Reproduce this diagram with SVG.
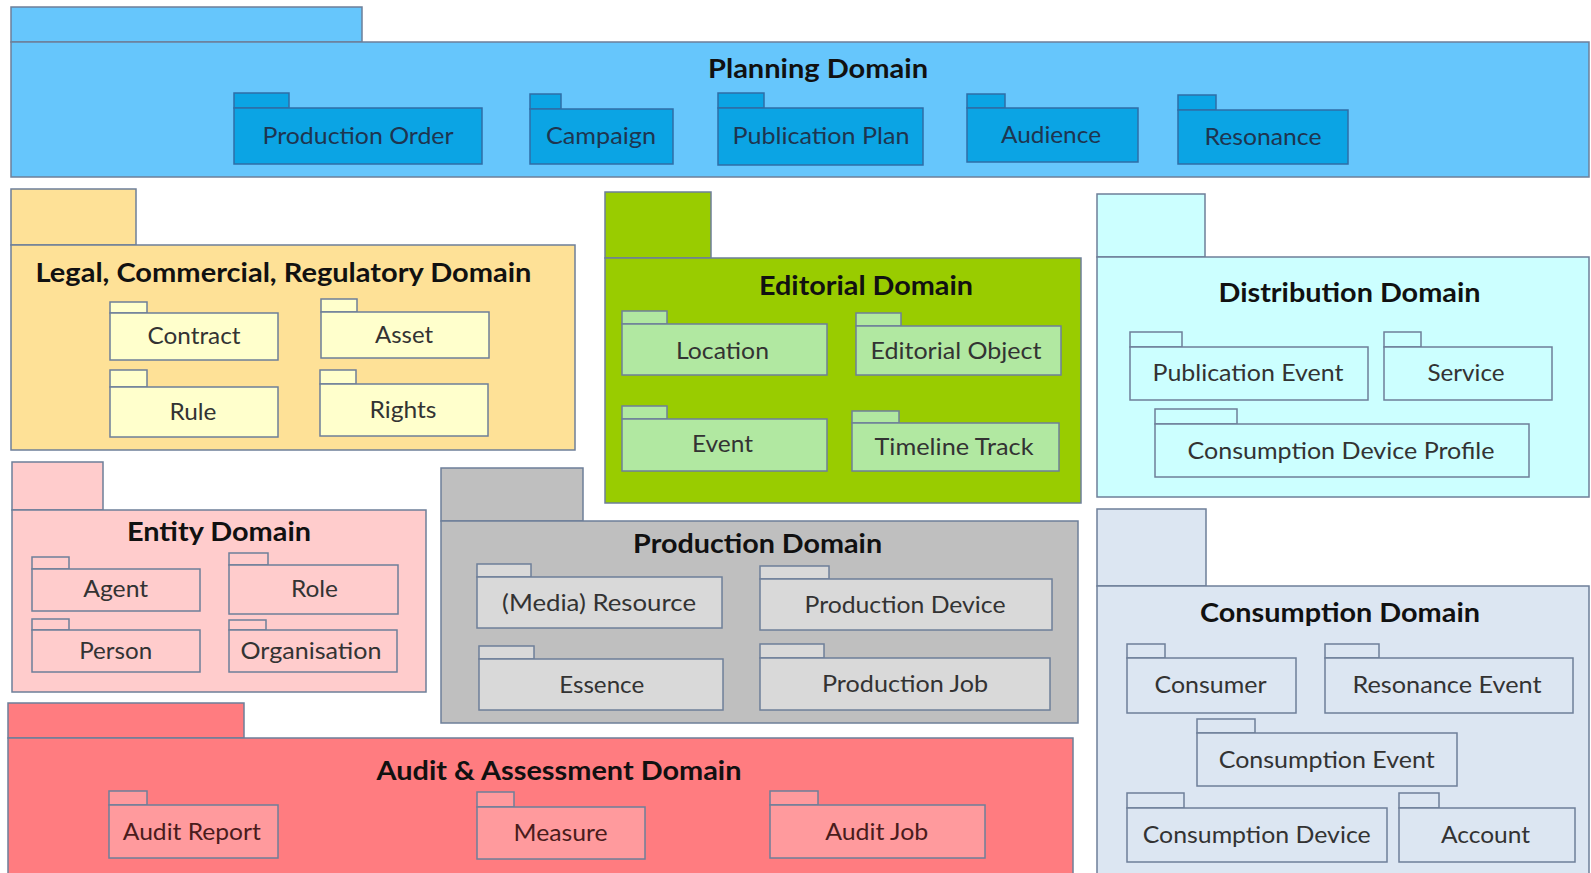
<svg xmlns="http://www.w3.org/2000/svg" width="1591" height="873" viewBox="0 0 1591 873">
<style>
  rect { stroke: #6E7F99; stroke-width: 1.5; }
  rect.bg { fill: #FFFFFF; stroke: none; }
  .t { font-family: Lato, "Liberation Sans", sans-serif; font-size: 26px; font-weight: bold; fill: #111; text-anchor: middle; }
  .s { font-family: Lato, "Liberation Sans", sans-serif; font-size: 24px; fill: #333; text-anchor: middle; }
  .plan { fill: #66C6FC; }
  .plan-s { fill: #0BA4E4; stroke: #2F6EA6; }
  .plan-t { fill: #1E3550; }
  .legal { fill: #FEE197; }
  .legal-s { fill: #FFFFCC; }
  .edit { fill: #99CC00; }
  .edit-s { fill: #B1E8A1; }
  .dist { fill: #CCFFFF; }
  .dist-s { fill: #CCFFFF; }
  .ent { fill: #FFCCCC; }
  .ent-s { fill: #FFCCCC; }
  .prod { fill: #BFBFBF; }
  .prod-s { fill: #D9D9D9; }
  .aud { fill: #FF7C80; }
  .aud-s { fill: #FF9A9D; }
  .aud-t { fill: #4A1C1C; }
  .cons { fill: #DCE6F2; }
  .cons-s { fill: #DCE6F2; }
</style>
<rect class="bg" x="0" y="0" width="1591" height="873"/>

<g id="planning-domain">
  <rect class="plan" x="11" y="7" width="351" height="35"/>
  <rect class="plan" x="11" y="42" width="1578" height="135"/>
  <text class="t" x="818" y="78" textLength="220" lengthAdjust="spacingAndGlyphs">Planning Domain</text>
  <g id="production-order">
    <rect class="plan-s" x="234" y="93" width="55" height="15"/>
    <rect class="plan-s" x="234" y="108" width="248" height="56"/>
    <text class="s plan-t" x="358" y="144" textLength="191" lengthAdjust="spacingAndGlyphs">Production Order</text>
  </g>
  <g id="campaign">
    <rect class="plan-s" x="530" y="94" width="31" height="15"/>
    <rect class="plan-s" x="530" y="109" width="143" height="55"/>
    <text class="s plan-t" x="601" y="144" textLength="110" lengthAdjust="spacingAndGlyphs">Campaign</text>
  </g>
  <g id="publication-plan">
    <rect class="plan-s" x="718" y="93" width="46" height="15"/>
    <rect class="plan-s" x="718" y="108" width="205" height="57"/>
    <text class="s plan-t" x="821" y="144" textLength="177" lengthAdjust="spacingAndGlyphs">Publication Plan</text>
  </g>
  <g id="audience">
    <rect class="plan-s" x="967" y="94" width="38" height="14"/>
    <rect class="plan-s" x="967" y="108" width="171" height="54"/>
    <text class="s plan-t" x="1051" y="143" textLength="100" lengthAdjust="spacingAndGlyphs">Audience</text>
  </g>
  <g id="resonance">
    <rect class="plan-s" x="1178" y="95" width="38" height="15"/>
    <rect class="plan-s" x="1178" y="110" width="170" height="54"/>
    <text class="s plan-t" x="1263" y="145" textLength="117" lengthAdjust="spacingAndGlyphs">Resonance</text>
  </g>
</g>

<g id="legal-domain">
  <rect class="legal" x="11" y="189" width="125" height="56"/>
  <rect class="legal" x="11" y="245" width="564" height="205"/>
  <text class="t" x="283.5" y="282" textLength="496" lengthAdjust="spacingAndGlyphs">Legal, Commercial, Regulatory Domain</text>
  <g id="contract">
    <rect class="legal-s" x="110" y="302" width="37" height="11"/>
    <rect class="legal-s" x="110" y="313" width="168" height="47"/>
    <text class="s" x="194" y="344" textLength="93" lengthAdjust="spacingAndGlyphs">Contract</text>
  </g>
  <g id="asset">
    <rect class="legal-s" x="321" y="299" width="36" height="13"/>
    <rect class="legal-s" x="321" y="312" width="168" height="46"/>
    <text class="s" x="404" y="343" textLength="58" lengthAdjust="spacingAndGlyphs">Asset</text>
  </g>
  <g id="rule">
    <rect class="legal-s" x="110" y="370" width="37" height="17"/>
    <rect class="legal-s" x="110" y="387" width="168" height="50"/>
    <text class="s" x="193" y="420" textLength="47" lengthAdjust="spacingAndGlyphs">Rule</text>
  </g>
  <g id="rights">
    <rect class="legal-s" x="320" y="370" width="36" height="14"/>
    <rect class="legal-s" x="320" y="384" width="168" height="52"/>
    <text class="s" x="403" y="418" textLength="67" lengthAdjust="spacingAndGlyphs">Rights</text>
  </g>
</g>

<g id="editorial-domain">
  <rect class="edit" x="605" y="192" width="106" height="66"/>
  <rect class="edit" x="605" y="258" width="476" height="245"/>
  <text class="t" x="866" y="295" textLength="214" lengthAdjust="spacingAndGlyphs">Editorial Domain</text>
  <g id="location">
    <rect class="edit-s" x="622" y="311" width="45" height="13"/>
    <rect class="edit-s" x="622" y="324" width="205" height="51"/>
    <text class="s" x="722.5" y="359" textLength="93" lengthAdjust="spacingAndGlyphs">Location</text>
  </g>
  <g id="editorial-object">
    <rect class="edit-s" x="856" y="313" width="45" height="13"/>
    <rect class="edit-s" x="856" y="326" width="205" height="49"/>
    <text class="s" x="956" y="359" textLength="171" lengthAdjust="spacingAndGlyphs">Editorial Object</text>
  </g>
  <g id="event">
    <rect class="edit-s" x="622" y="406" width="45" height="13"/>
    <rect class="edit-s" x="622" y="419" width="205" height="52"/>
    <text class="s" x="722.5" y="452" textLength="61" lengthAdjust="spacingAndGlyphs">Event</text>
  </g>
  <g id="timeline-track">
    <rect class="edit-s" x="852" y="411" width="47" height="12"/>
    <rect class="edit-s" x="852" y="423" width="207" height="48"/>
    <text class="s" x="954" y="455" textLength="159" lengthAdjust="spacingAndGlyphs">Timeline Track</text>
  </g>
</g>

<g id="distribution-domain">
  <rect class="dist" x="1097" y="194" width="108" height="63"/>
  <rect class="dist" x="1097" y="257" width="492" height="240"/>
  <text class="t" x="1349.5" y="302" textLength="262" lengthAdjust="spacingAndGlyphs">Distribution Domain</text>
  <g id="publication-event">
    <rect class="dist-s" x="1130" y="332" width="52" height="15"/>
    <rect class="dist-s" x="1130" y="347" width="238" height="53"/>
    <text class="s" x="1248" y="381" textLength="191" lengthAdjust="spacingAndGlyphs">Publication Event</text>
  </g>
  <g id="service">
    <rect class="dist-s" x="1384" y="332" width="37" height="15"/>
    <rect class="dist-s" x="1384" y="347" width="168" height="53"/>
    <text class="s" x="1466" y="381" textLength="77" lengthAdjust="spacingAndGlyphs">Service</text>
  </g>
  <g id="consumption-device-profile">
    <rect class="dist-s" x="1155" y="409" width="82" height="15"/>
    <rect class="dist-s" x="1155" y="424" width="374" height="53"/>
    <text class="s" x="1341" y="459" textLength="307" lengthAdjust="spacingAndGlyphs">Consumption Device Profile</text>
  </g>
</g>

<g id="entity-domain">
  <rect class="ent" x="12" y="462" width="91" height="48"/>
  <rect class="ent" x="12" y="510" width="414" height="182"/>
  <text class="t" x="219" y="541" textLength="184" lengthAdjust="spacingAndGlyphs">Entity Domain</text>
  <g id="agent">
    <rect class="ent-s" x="32" y="557" width="37" height="12"/>
    <rect class="ent-s" x="32" y="569" width="168" height="42"/>
    <text class="s" x="115.7" y="597" textLength="65" lengthAdjust="spacingAndGlyphs">Agent</text>
  </g>
  <g id="role">
    <rect class="ent-s" x="229" y="553" width="39" height="12"/>
    <rect class="ent-s" x="229" y="565" width="169" height="49"/>
    <text class="s" x="314.5" y="597" textLength="47" lengthAdjust="spacingAndGlyphs">Role</text>
  </g>
  <g id="person">
    <rect class="ent-s" x="32" y="619" width="37" height="11"/>
    <rect class="ent-s" x="32" y="630" width="168" height="42"/>
    <text class="s" x="115.7" y="659" textLength="73" lengthAdjust="spacingAndGlyphs">Person</text>
  </g>
  <g id="organisation">
    <rect class="ent-s" x="229" y="620" width="37" height="10"/>
    <rect class="ent-s" x="229" y="630" width="168" height="42"/>
    <text class="s" x="311" y="659" textLength="141" lengthAdjust="spacingAndGlyphs">Organisation</text>
  </g>
</g>

<g id="production-domain">
  <rect class="prod" x="441" y="468" width="142" height="53"/>
  <rect class="prod" x="441" y="521" width="637" height="202"/>
  <text class="t" x="757.6" y="553" textLength="249" lengthAdjust="spacingAndGlyphs">Production Domain</text>
  <g id="media-resource">
    <rect class="prod-s" x="477" y="564" width="54" height="13"/>
    <rect class="prod-s" x="477" y="577" width="245" height="51"/>
    <text class="s" x="599" y="611" textLength="194" lengthAdjust="spacingAndGlyphs">(Media) Resource</text>
  </g>
  <g id="production-device">
    <rect class="prod-s" x="760" y="566" width="69" height="13"/>
    <rect class="prod-s" x="760" y="579" width="292" height="51"/>
    <text class="s" x="905" y="613" textLength="201" lengthAdjust="spacingAndGlyphs">Production Device</text>
  </g>
  <g id="essence">
    <rect class="prod-s" x="479" y="646" width="55" height="13"/>
    <rect class="prod-s" x="479" y="659" width="244" height="51"/>
    <text class="s" x="601.7" y="693" textLength="85" lengthAdjust="spacingAndGlyphs">Essence</text>
  </g>
  <g id="production-job">
    <rect class="prod-s" x="760" y="644" width="64" height="14"/>
    <rect class="prod-s" x="760" y="658" width="290" height="52"/>
    <text class="s" x="905" y="692" textLength="166" lengthAdjust="spacingAndGlyphs">Production Job</text>
  </g>
</g>

<g id="audit-domain">
  <rect class="aud" x="8" y="703" width="236" height="35"/>
  <rect class="aud" x="8" y="738" width="1065" height="145"/>
  <text class="t" x="559" y="780" textLength="365" lengthAdjust="spacingAndGlyphs">Audit &amp; Assessment Domain</text>
  <g id="audit-report">
    <rect class="aud-s" x="109" y="791" width="38" height="14"/>
    <rect class="aud-s" x="109" y="805" width="169" height="53"/>
    <text class="s aud-t" x="191.8" y="840" textLength="138" lengthAdjust="spacingAndGlyphs">Audit Report</text>
  </g>
  <g id="measure">
    <rect class="aud-s" x="477" y="792" width="37" height="15"/>
    <rect class="aud-s" x="477" y="807" width="168" height="52"/>
    <text class="s aud-t" x="560.6" y="841" textLength="94" lengthAdjust="spacingAndGlyphs">Measure</text>
  </g>
  <g id="audit-job">
    <rect class="aud-s" x="770" y="791" width="48" height="14"/>
    <rect class="aud-s" x="770" y="805" width="215" height="53"/>
    <text class="s aud-t" x="876.7" y="840" textLength="103" lengthAdjust="spacingAndGlyphs">Audit Job</text>
  </g>
</g>

<g id="consumption-domain">
  <rect class="cons" x="1097" y="509" width="109" height="77"/>
  <rect class="cons" x="1097" y="586" width="492" height="297"/>
  <text class="t" x="1340" y="621.7" textLength="280" lengthAdjust="spacingAndGlyphs">Consumption Domain</text>
  <g id="consumer">
    <rect class="cons-s" x="1127" y="644" width="38" height="14"/>
    <rect class="cons-s" x="1127" y="658" width="169" height="55"/>
    <text class="s" x="1210.5" y="693" textLength="112" lengthAdjust="spacingAndGlyphs">Consumer</text>
  </g>
  <g id="resonance-event">
    <rect class="cons-s" x="1325" y="644" width="54" height="14"/>
    <rect class="cons-s" x="1325" y="658" width="248" height="55"/>
    <text class="s" x="1447" y="693" textLength="189" lengthAdjust="spacingAndGlyphs">Resonance  Event</text>
  </g>
  <g id="consumption-event">
    <rect class="cons-s" x="1197" y="719" width="58" height="14"/>
    <rect class="cons-s" x="1197" y="733" width="260" height="53"/>
    <text class="s" x="1326.7" y="768" textLength="216" lengthAdjust="spacingAndGlyphs">Consumption  Event</text>
  </g>
  <g id="consumption-device">
    <rect class="cons-s" x="1127" y="793" width="57" height="15"/>
    <rect class="cons-s" x="1127" y="808" width="260" height="54"/>
    <text class="s" x="1256.7" y="843" textLength="228" lengthAdjust="spacingAndGlyphs">Consumption  Device</text>
  </g>
  <g id="account">
    <rect class="cons-s" x="1399" y="793" width="40" height="15"/>
    <rect class="cons-s" x="1399" y="808" width="176" height="54"/>
    <text class="s" x="1485.5" y="843" textLength="89" lengthAdjust="spacingAndGlyphs">Account</text>
  </g>
</g>

<g id="connectors"></g>
</svg>
